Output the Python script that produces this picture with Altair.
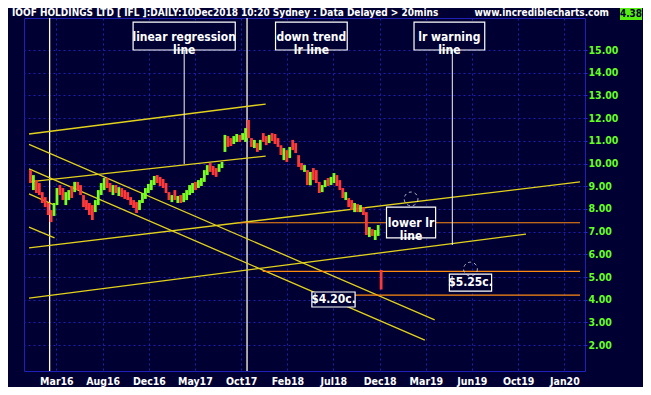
import altair as alt
import pandas as pd

# ---------------- data ----------------
# price bars (approx. every 6 trading days), index 0..119
bar_hi = [9.71, 9.49, 9.27, 9.14, 8.74, 8.52, 8.26, 7.95, 8.26, 8.92,
          9.05, 8.92, 8.74, 8.83, 9.01, 9.19, 9.19, 9.05, 8.61, 8.39,
          8.26, 8.17, 8.39, 8.83, 9.14, 9.36, 9.36, 9.14, 9.05, 9.05,
          8.96, 8.92, 8.83, 8.74, 8.52, 8.39, 8.30, 8.39, 8.70, 8.92,
          9.10, 9.27, 9.45, 9.49, 9.41, 9.32, 9.14, 8.74, 8.61, 8.83,
          8.57, 8.61, 8.70, 8.83, 9.05, 9.14, 9.19, 9.27, 9.36, 9.71,
          9.93, 10.02, 9.89, 9.80, 9.98, 10.07, 11.26, 11.21, 11.12, 11.21,
          11.30, 11.26, 11.34, 11.56, 11.92, 11.12, 11.04, 10.90, 11.04, 11.34,
          11.21, 11.26, 11.34, 11.30, 11.12, 10.81, 10.68, 10.59, 10.73, 11.04,
          10.90, 10.37, 10.02, 9.93, 9.71, 9.63, 9.80, 9.71, 9.19, 9.05,
          9.27, 9.36, 9.41, 9.58, 9.49, 9.27, 8.92, 8.74, 8.48, 8.39,
          8.26, 8.21, 8.17, 8.08, 7.86, 7.20, 7.11, 7.07, 7.29, 5.31]
bar_lo = [9.14, 8.83, 8.70, 8.61, 8.26, 8.08, 7.73, 7.42, 7.69, 8.17,
          8.61, 8.39, 8.17, 8.39, 8.48, 8.74, 8.83, 8.61, 8.08, 7.95,
          7.73, 7.51, 7.86, 8.17, 8.61, 8.83, 8.92, 8.74, 8.61, 8.70,
          8.57, 8.52, 8.44, 8.39, 8.17, 8.04, 7.82, 7.95, 8.26, 8.44,
          8.70, 8.83, 9.05, 9.14, 9.01, 8.92, 8.70, 8.39, 8.30, 8.39,
          8.26, 8.26, 8.30, 8.39, 8.61, 8.70, 8.83, 8.92, 9.01, 9.19,
          9.49, 9.63, 9.49, 9.41, 9.63, 9.80, 10.51, 10.73, 10.77, 10.86,
          10.95, 10.95, 11.04, 10.95, 11.12, 10.73, 10.68, 10.51, 10.59, 10.95,
          10.81, 10.90, 10.99, 10.86, 10.73, 10.37, 10.15, 10.07, 10.24, 10.59,
          10.46, 9.85, 9.71, 9.63, 9.05, 9.04, 9.27, 9.14, 8.70, 8.74,
          8.96, 9.01, 9.05, 9.14, 9.01, 8.83, 8.48, 8.39, 8.08, 7.95,
          7.86, 7.86, 7.86, 7.73, 6.85, 6.76, 6.81, 6.63, 6.81, 4.45]
bar_dir = ("d u d d d d d d u u "
           "d d u u d u d d d d "
           "d d u u u u d d u d "
           "u d d d d d d u u u "
           "u u u d d d d d u d "
           "u d u u u u d u u u "
           "u d d d u u u d d u "
           "u d u u d d u d u d "
           "d u d d d d u d u d "
           "d d d u d u d d d u "
           "u d u u d d d u d d "
           "u d u d d u d u u d").split()

# trend lines (x in bar index, y in $)
line_x1 = [-0.5, -0.5, -0.5, -0.5, -0.5, -0.5, -0.5, -0.5]
line_y1 = [11.30, 9.19, 6.28, 4.07, 10.84, 9.76, 8.66, 7.20]
line_x2 = [79.83, 79.83, 186.5, 168.17, 137.17, 133.83, 8.17, 8.17]
line_y2 = [12.62, 10.33, 9.19, 6.89, 3.11, 2.22, 8.17, 6.72]

# horizontal price levels
level_y = [7.39, 5.25, 4.20]
level_x1 = [70.8, 78.8, 105.8]
level_x2 = [186.5, 186.5, 186.5]

# vertical marker lines
marker_x = [6.5, 73.5]

# pointer lines from notes
pointer_x = [52.17, 143.17]
pointer_top = [15.0, 15.0]
pointer_bottom = [9.98, 6.41]

# note boxes
note_text = [["linear regression", "line"], ["down trend", "lr line"], ["lr warning", "line"],
             ["lower lr", "line"], ["$4.20c."], ["$5.25c."]]
note_x1 = [34.83, 83.17, 130.17, 120.83, 95.5, 142.17]
note_x2 = [69.5, 107.5, 154.17, 137.5, 110.17, 156.5]
note_y1 = [16.23, 16.23, 16.23, 8.08, 4.34, 5.13]
note_y2 = [15.0, 15.0, 15.0, 6.72, 3.68, 4.38]
note_cx = [52.17, 95.33, 142.17, 129.17, 102.83, 149.33]
note_cy = [15.59, 15.59, 15.59, 7.40, 4.01, 4.76]

# small dashed circles
circle_x = [129.17, 149.33]
circle_y = [8.44, 5.35]

tick_pos = [8.8, 24.5, 40.2, 55.8, 71.5, 87.2, 102.8, 118.5, 134.2, 149.8, 165.5, 181.2]
tick_labels = ["Mar16", "Aug16", "Dec16", "May17", "Oct17", "Feb18",
               "Jul18", "Dec18", "Mar19", "Jun19", "Oct19", "Jan20"]
price_ticks = [2, 3, 4, 5, 6, 7, 8, 9, 10, 11, 12, 13, 14, 15]

# ---------------- chart ----------------
FONT = "Liberation Sans Narrow, Arial Narrow, DejaVu Sans Condensed, sans-serif"
BG = "#000033"
XD = [-0.5, 186.5]
YD = [0.86, 16.41]

bars = pd.DataFrame({"i": list(range(len(bar_hi))), "hi": bar_hi, "lo": bar_lo, "dir": bar_dir})
lines = pd.DataFrame({"x1": line_x1, "y1": line_y1, "x2": line_x2, "y2": line_y2})
levels = pd.DataFrame({"y": level_y, "x1": level_x1, "x2": level_x2})
markers = pd.DataFrame({"x": marker_x})
pointers = pd.DataFrame({"x": pointer_x, "t": pointer_top, "b": pointer_bottom})
notes = pd.DataFrame({"txt": note_text, "x1": note_x1, "x2": note_x2, "y1": note_y1,
                      "y2": note_y2, "cx": note_cx, "cy": note_cy})
circles = pd.DataFrame({"x": circle_x, "y": circle_y})

label_expr = ("[" + ",".join("'%s'" % l for l in tick_labels) + "][indexof(["
              + ",".join(str(p) for p in tick_pos) + "], datum.value)]")

xs = alt.Scale(domain=XD, nice=False, zero=False)
ys = alt.Scale(domain=YD, nice=False, zero=False)

xaxis = alt.Axis(values=tick_pos, labelExpr=label_expr, title=None, domain=False, ticks=False,
                 labelColor="white", labelFont=FONT, labelFontSize=10.5, labelFontWeight="bold",
                 labelPadding=5, grid=True, gridColor="#1e1eb0", gridDash=[2, 3], labelOverlap=False)
yaxis = alt.Axis(values=price_ticks, format=".2f", orient="right", title=None, domain=False,
                 tickColor="#2a2ad0", tickSize=2, labelPadding=1, labelColor="#66ff22",
                 labelFont=FONT, labelFontSize=10.5, labelFontWeight="bold",
                 grid=True, gridColor="#1e1eb0", gridDash=[2, 3], labelOverlap=False)


def X(f):
    return alt.X(f, scale=xs, axis=xaxis)


def Y(f):
    return alt.Y(f, scale=ys, axis=yaxis)


yellow = alt.Chart(lines).mark_rule(color="#e2d21c", strokeWidth=1.3).encode(
    x=X("x1:Q"), y=Y("y1:Q"), x2="x2:Q", y2="y2:Q")

orange = alt.Chart(levels).mark_rule(color="#ff8a10", strokeWidth=1.2).encode(
    x=X("x1:Q"), x2="x2:Q", y=Y("y:Q"))

white_v = alt.Chart(markers).mark_rule(color="#fffbe0", strokeWidth=1.3).encode(
    x=X("x:Q"), y=alt.value(0), y2=alt.value(353))

ptr = alt.Chart(pointers).mark_rule(color="#f4f4f4", strokeWidth=1).encode(
    x=X("x:Q"), y=Y("t:Q"), y2="b:Q")

pricebars = alt.Chart(bars).mark_bar(size=2.8).encode(
    x=X("i:Q"),
    y=Y("lo:Q"),
    y2="hi:Q",
    color=alt.Color("dir:N", scale=alt.Scale(domain=["u", "d"], range=["#77ff22", "#ff3838"]), legend=None),
)

boxes = alt.Chart(notes).mark_rect(fill=BG, stroke="white", strokeWidth=1.2).encode(
    x=X("x1:Q"), x2="x2:Q", y=Y("y1:Q"), y2="y2:Q")

box_text = alt.Chart(notes).mark_text(color="white", font=FONT, fontSize=12, fontWeight="bold",
                                      align="center", baseline="middle", lineHeight=13).encode(
    x=X("cx:Q"), y=Y("cy:Q"), text="txt")

circ = alt.Chart(circles).mark_point(shape="circle", size=190, filled=False, color="white",
                                     strokeWidth=1, strokeDash=[3, 3]).encode(
    x=X("x:Q"), y=Y("y:Q"))

header = pd.DataFrame({"a": [0]})
title_t = alt.Chart(header).mark_text(
    text="IOOF HOLDINGS LTD [ IFL ]:DAILY:10Dec2018 10:20 Sydney : Data Delayed > 20mins",
    color="white", font=FONT, fontSize=10, fontWeight="bold", align="left", baseline="middle"
).encode(x=alt.value(-12), y=alt.value(-5))
site_t = alt.Chart(header).mark_text(
    text="www.incrediblecharts.com", color="white", font=FONT, fontSize=10, fontWeight="bold",
    align="right", baseline="middle").encode(x=alt.value(585), y=alt.value(-5))
last_box = alt.Chart(header).mark_rect(fill="#55ee11").encode(
    x=alt.value(596), x2=alt.value(618), y=alt.value(-10), y2=alt.value(2))
last_t = alt.Chart(header).mark_text(
    text="4.38", color="#000033", font=FONT, fontSize=10, fontWeight="bold",
    align="center", baseline="middle").encode(x=alt.value(607), y=alt.value(-4))

chart = alt.layer(
    white_v, yellow, orange, pricebars, ptr, boxes, box_text, circ,
    title_t, site_t, last_box, last_t
).properties(
    width=561, height=353,
    autosize=alt.AutoSizeParams(type="none"),
    padding={"left": 16, "top": 10, "right": 58, "bottom": 16},
    background=BG,
).configure_view(
    fill=BG, stroke="#2020b8", strokeWidth=1
)

chart.save("out.html", embed_options={"renderer": "svg", "actions": False})
